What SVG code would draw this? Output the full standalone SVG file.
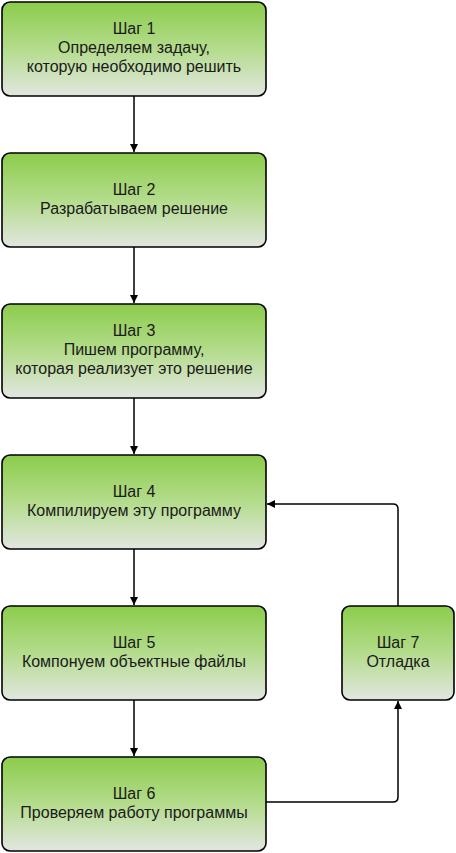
<svg xmlns="http://www.w3.org/2000/svg" width="456" height="853" viewBox="0 0 456 853">
<style>
.box{fill:url(#g);stroke:#000;stroke-width:1.6}
.t{font-family:"Liberation Sans",Arial,sans-serif;font-size:16px;fill:#1a1a1a;text-anchor:middle}
.c{fill:none;stroke:#000;stroke-width:1.5}
</style>
<defs>
<linearGradient id="g" x1="0" y1="0" x2="0" y2="1">
<stop offset="0" stop-color="#8ccc4c"/>
<stop offset="0.5" stop-color="#b4dc8c"/>
<stop offset="1" stop-color="#e2e6e0"/>
</linearGradient>
<marker id="a" viewBox="0 0 10 10" refX="10" refY="5" markerWidth="8" markerHeight="8" orient="auto" markerUnits="userSpaceOnUse">
<path d="M0,0 L10,5 L0,10 z" fill="#000"/>
</marker>
</defs>
<g id="connectors">
<path class="c" d="M134,96 V152" marker-end="url(#a)"/>
<path class="c" d="M134,247 V303" marker-end="url(#a)"/>
<path class="c" d="M134,398 V454" marker-end="url(#a)"/>
<path class="c" d="M134,549 V605" marker-end="url(#a)"/>
<path class="c" d="M134,700 V756" marker-end="url(#a)"/>
<path class="c" d="M266,802 H393 Q398,802 398,797 V701" marker-end="url(#a)"/>
<path class="c" d="M398,606 V509 Q398,504 393,504 H267" marker-end="url(#a)"/>
</g>
<g id="step1">
<rect class="box" x="2" y="2" width="264" height="94" rx="8"/>
<text class="t" x="134" y="34">Шаг 1</text>
<text class="t" x="134" y="53">Определяем задачу,</text>
<text class="t" x="134" y="72">которую необходимо решить</text>
</g>
<g id="step2">
<rect class="box" x="2" y="153" width="264" height="94" rx="8"/>
<text class="t" x="134" y="195">Шаг 2</text>
<text class="t" x="134" y="214">Разрабатываем решение</text>
</g>
<g id="step3">
<rect class="box" x="2" y="304" width="264" height="94" rx="8"/>
<text class="t" x="134" y="336">Шаг 3</text>
<text class="t" x="134" y="355">Пишем программу,</text>
<text class="t" x="134" y="374">которая реализует это решение</text>
</g>
<g id="step4">
<rect class="box" x="2" y="455" width="264" height="94" rx="8"/>
<text class="t" x="134" y="497">Шаг 4</text>
<text class="t" x="134" y="516">Компилируем эту программу</text>
</g>
<g id="step5">
<rect class="box" x="2" y="606" width="264" height="94" rx="8"/>
<text class="t" x="134" y="648">Шаг 5</text>
<text class="t" x="134" y="667">Компонуем объектные файлы</text>
</g>
<g id="step6">
<rect class="box" x="2" y="757" width="264" height="94" rx="8"/>
<text class="t" x="134" y="799">Шаг 6</text>
<text class="t" x="134" y="818">Проверяем работу программы</text>
</g>
<g id="step7">
<rect class="box" x="342" y="606" width="112" height="94" rx="8"/>
<text class="t" x="398" y="648">Шаг 7</text>
<text class="t" x="398" y="667">Отладка</text>
</g>
</svg>
